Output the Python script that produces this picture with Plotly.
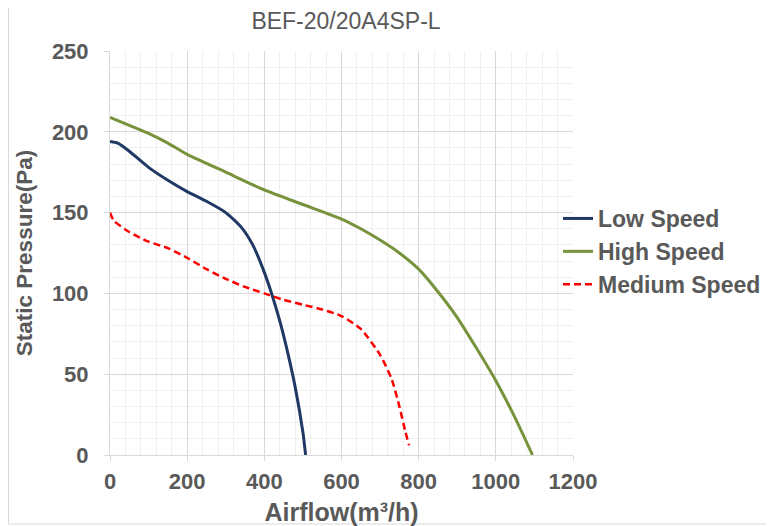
import plotly.graph_objects as go

low_x = [0, 20, 50, 100, 150, 200, 250, 300, 340, 370, 400, 420, 440, 460, 480, 500, 507]
low_y = [194, 193, 188, 178, 170, 163, 157, 150, 141, 130, 113, 99, 83, 64, 42, 14, 0]

high_x = [0, 50, 100, 150, 200, 300, 400, 500, 600, 650, 700, 750, 800, 850, 900, 950, 1000, 1050, 1095]
high_y = [209, 204, 199, 193, 186, 175, 164, 155, 146, 140, 133, 125, 115, 101, 85, 66, 46, 23, 0]

med_x = [0, 10, 50, 100, 150, 200, 250, 300, 350, 400, 450, 500, 550, 600, 650, 700, 730, 750, 765, 775]
med_y = [150, 145, 138, 132, 128, 122, 115, 109, 104, 100, 96, 93, 90, 86, 78, 62, 47, 30, 15, 6]

# figure geometry (page has an 8px body margin)
W, H = 766, 518
L, R, T, B = 102, 201, 43, 71
PW, PH = W - L - R, H - T - B


def px(xf):
    return (xf - L) / PW


def py(yf):
    return (H - B - yf) / PH


fig = go.Figure()
fig.add_trace(go.Scatter(x=low_x, y=low_y, mode="lines", name="Low Speed", legendgroup="a",
                         line=dict(color="#1f3864", width=3, shape="spline", smoothing=0.6)))
fig.add_trace(go.Scatter(x=high_x, y=high_y, mode="lines", name="High Speed", legendgroup="b",
                         line=dict(color="#77933c", width=3, shape="spline", smoothing=0.6)))
fig.add_trace(go.Scatter(x=med_x, y=med_y, mode="lines", name="Medium Speed", legendgroup="c",
                         line=dict(color="#ff0000", width=2.5, dash="7px,4px", shape="spline", smoothing=0.6)))

font_family = "Liberation Sans, Arial, sans-serif"
grey = "#595959"

fig.update_layout(
    width=W, height=H,
    margin=dict(l=L, r=R, t=T, b=B, autoexpand=False),
    paper_bgcolor="white", plot_bgcolor="white",
    title=dict(text="BEF-20/20A4SP-L", x=338 / W, xanchor="center", y=1 - 13 / H, yanchor="middle",
               font=dict(family=font_family, size=23, color=grey)),
    showlegend=True,
    legend=dict(x=px(550), xanchor="left", y=py(189), yanchor="top", itemwidth=30,
                font=dict(family=font_family, size=23, color=grey, weight="bold"),
                tracegroupgap=0, bgcolor="rgba(0,0,0,0)"),
    font=dict(family=font_family, color=grey),
)

fig.update_xaxes(
    range=[0, 1200], dtick=200, tick0=0, automargin=False,
    showgrid=True, gridcolor="#d9d9d9", gridwidth=1,
    minor=dict(dtick=40, showgrid=True, gridcolor="#f0f0f0", gridwidth=1),
    showline=True, linecolor="#d9d9d9", linewidth=1,
    ticks="outside", ticklen=5, tickcolor="#d9d9d9", ticklabelstandoff=2,
    tickfont=dict(family=font_family, size=22, color=grey, weight="bold"),
    title=dict(text="Airflow(m³/h)", font=dict(family=font_family, size=25, color=grey, weight="bold"), standoff=22),
    zeroline=False,
)
fig.update_yaxes(
    range=[0, 250], dtick=50, tick0=0, automargin=False,
    showgrid=True, gridcolor="#d9d9d9", gridwidth=1,
    minor=dict(dtick=10, showgrid=True, gridcolor="#f0f0f0", gridwidth=1),
    showline=True, linecolor="#d9d9d9", linewidth=1,
    ticks="outside", ticklen=5, tickcolor="#d9d9d9", ticklabelstandoff=11,
    tickfont=dict(family=font_family, size=22, color=grey, weight="bold"),
    title=dict(text="Static Pressure(Pa)", font=dict(family=font_family, size=22.5, color=grey, weight="bold"), standoff=13),
    zeroline=False,
)

# chart border
fig.add_shape(type="rect", xref="paper", yref="paper",
              x0=px(0.5), x1=px(762), y0=py(516), y1=py(-1),
              line=dict(color="#d9d9d9", width=1), layer="below")

fig.write_html("out.html")
